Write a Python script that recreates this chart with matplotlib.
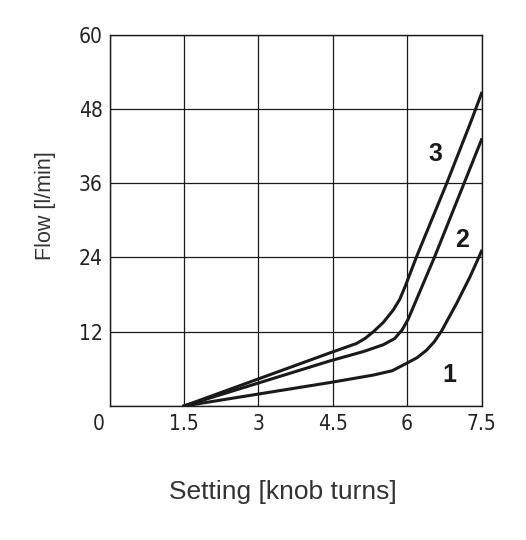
import matplotlib
matplotlib.use("Agg")
import matplotlib.pyplot as plt
import matplotlib.transforms as mtrans
from matplotlib import font_manager

# curve values
c1_x = [1.5, 4.45, 5.32, 5.70, 5.99, 6.20, 6.39, 6.55, 6.70, 7.0, 7.27, 7.5]
c1_y = [0, 3.8, 5.0, 5.7, 6.9, 7.8, 9.0, 10.4, 12.2, 16.6, 20.9, 25.0]
c2_x = [1.5, 4.45, 5.12, 5.52, 5.75, 5.90, 6.02, 6.56, 7.15, 7.5]
c2_y = [0, 7.3, 8.8, 9.9, 10.9, 12.3, 14.0, 24.2, 36, 43.0]
c3_x = [1.5, 4.45, 4.98, 5.15, 5.32, 5.52, 5.72, 5.85, 5.96, 6.19, 6.80, 7.30, 7.5]
c3_y = [0, 8.6, 10.1, 10.9, 12.0, 13.5, 15.5, 17.2, 19.3, 24.1, 36, 46.2, 50.5]

curve_names = ["1", "2", "3"]
name_pos = [(6.85, 5.0), (7.11, 26.8), (6.58, 40.7)]

x_ticks = [0, 1.5, 3, 4.5, 6, 7.5]
x_tick_labels = ["0", "1.5", "3", "4.5", "6", "7.5"]
y_ticks = [0, 12, 24, 36, 48, 60]
y_tick_labels = ["", "12", "24", "36", "48", "60"]

names = set(f.name for f in font_manager.fontManager.ttflist)
if "Liberation Sans Narrow" in names:
    tick_font = dict(family="Liberation Sans Narrow")
else:
    tick_font = dict(family="DejaVu Sans", stretch="condensed")

ink = "#1a1a1a"

fig = plt.figure(figsize=(5.26, 5.40), dpi=100)
ax = fig.add_axes([0.2082, 0.2481, 0.7072, 0.688])

for xs, ys in [(c1_x, c1_y), (c2_x, c2_y), (c3_x, c3_y)]:
    ax.plot(xs, ys, color=ink, lw=2.2, solid_joinstyle="round", zorder=3)

for name, (tx, ty) in zip(curve_names, name_pos):
    ax.text(tx, ty, name, fontsize=18, fontweight="bold", family="Liberation Sans",
            color=ink, ha="center", va="center")

ax.set_xlim(0, 7.5)
ax.set_ylim(0, 60)
ax.set_xticks(x_ticks)
ax.set_xticklabels(x_tick_labels, fontsize=15, color="#222222", **tick_font)
ax.set_yticks(y_ticks)
ax.set_yticklabels(y_tick_labels, fontsize=15, color="#222222", **tick_font)
ax.tick_params(length=0)
ax.tick_params(axis="x", pad=6)
ax.tick_params(axis="y", pad=5)
ax.grid(True, color=ink, lw=0.9)
for s in ax.spines.values():
    s.set_color(ink)
    s.set_linewidth(1.0)

# the shared "0" sits left of the corner
lbl0 = ax.get_xticklabels()[0]
lbl0.set_transform(lbl0.get_transform() + mtrans.ScaledTranslation(-11 / 100, 0, fig.dpi_scale_trans))

ax.set_xlabel("Setting [knob turns]", fontsize=19, family="Liberation Sans", color="#333333", va="center")
ax.xaxis.set_label_coords(0.465, -0.231)
ax.set_ylabel("Flow [l/min]", fontsize=15.5, family="Liberation Sans", color="#333333", va="center")
ax.yaxis.set_label_coords(-0.172, 0.54)

fig.savefig("out.png", dpi=100)
